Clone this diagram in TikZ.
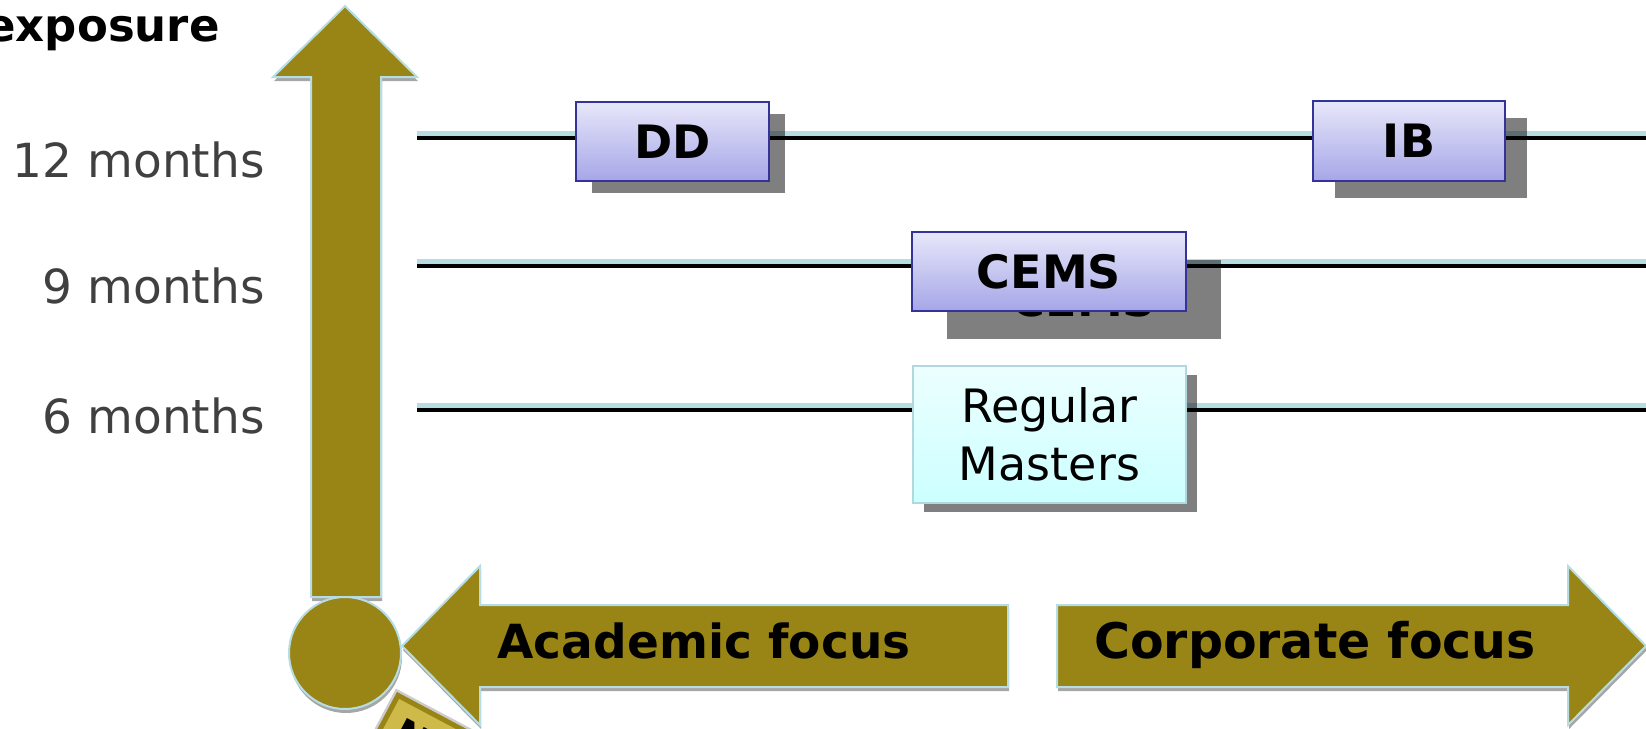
\documentclass[tikz,border=0pt]{standalone}
\usepackage{fontspec}
\setmainfont{DejaVu Sans}
\usepackage{tikz}
\usetikzlibrary{shadows}
\definecolor{arrowolive}{RGB}{153,133,21}
\definecolor{rimblue}{RGB}{183,221,228}
\definecolor{boxtop}{RGB}{231,231,250}
\definecolor{boxbottom}{RGB}{166,166,232}
\definecolor{boxrim}{RGB}{51,51,153}
\definecolor{regtop}{RGB}{236,255,255}
\definecolor{regbottom}{RGB}{204,255,255}
\definecolor{regrim}{RGB}{176,216,222}
\definecolor{labelgray}{RGB}{64,64,64}
\definecolor{fragfill}{RGB}{206,186,72}
\tikzset{every picture/.style={line width=0.75pt}}

\begin{document}
\begin{tikzpicture}[x=1pt,y=-1pt,
    boxshadow/.style 2 args={drop shadow={shadow xshift=#1, shadow yshift=#2, fill=black, opacity=0.5}},
    prog/.style={draw=boxrim, line width=2pt, top color=boxtop, bottom color=boxbottom, inner sep=0pt, font=\fontsize{46}{55}\selectfont\bfseries},
    progtext/.style={inner sep=0pt, font=\fontsize{46}{55}\selectfont\bfseries},
    regular/.style={draw=regrim, line width=2pt, top color=regtop, bottom color=regbottom, inner sep=0pt, align=center, font=\fontsize{46}{58}\selectfont},
    months/.style={anchor=base east, inner sep=0pt, text=labelgray, font=\fontsize{47}{56}\selectfont},
    focus/.style={anchor=base, inner sep=0pt, font=\fontsize{47}{56}\selectfont\bfseries},
    olivearrow/.style={fill=arrowolive, draw=rimblue, line width=2pt, drop shadow={shadow xshift=1pt, shadow yshift=-4pt, fill=black!35, opacity=1}},
    fragment/.style={fill=fragfill, draw=arrowolive, line width=5pt, preaction={draw=white!80!black, line width=10pt}, inner sep=16pt, text width=150pt, align=left, font=\fontsize{40}{48}\selectfont\bfseries}]
    \useasboundingbox (0,0) rectangle (1646,728);
    \clip (0,0) rectangle (1646,728);

    \node[fragment, rotate=-28, anchor=north west] (frag) at (397,692) {N};

    \node[anchor=base east, inner sep=0pt, font=\fontsize{45}{54}\selectfont\bfseries] (expo) at (220,41) {exposure};
    \node[months] (m12) at (265,177) {12 months};
    \node[months] (m9) at (265,303) {9 months};
    \node[months] (m6) at (265,433) {6 months};

    \foreach \y/\n in {138/twelve, 265.5/nine, 409.5/six} {
        \coordinate (\n w) at (417,\y);
        \coordinate (\n e) at (1646,\y);
        \draw[rimblue, line width=5pt] ([yshift=4.5pt]\n w) -- ([yshift=4.5pt]\n e);
        \draw[black, line width=4pt] (\n w) -- (\n e);
    }

    \node[prog, boxshadow={16pt}{-12pt}, minimum width=193pt, minimum height=79pt] (dd) at (672.5,141.5) {DD};
    \node[prog, boxshadow={22pt}{-17pt}, minimum width=192pt, minimum height=80pt] (ib) at (1409,141) {IB};
    \node[progtext] (cemsghost) at (1084,299.5) {CEMS};
    \node[prog, boxshadow={35pt}{-28pt}, minimum width=274pt, minimum height=79pt] (cems) at (1049,271.5) {CEMS};
    \node[regular, boxshadow={11pt}{-9pt}, minimum width=273pt, minimum height=137pt] (masters) at (1049.5,434.5) {Regular\\Masters};

    \path[olivearrow] (311,597) -- (311,77) -- (273,77) -- (345,6) -- (417,77) -- (381,77) -- (381,597) -- cycle;
    \node[circle, olivearrow, minimum size=112pt, inner sep=0pt] (origin) at (345,653) {};
    \path[olivearrow] (1008,605) -- (480,605) -- (480,566) -- (402,646) -- (480,725) -- (480,687) -- (1008,687) -- cycle;
    \path[olivearrow] (1057,605) -- (1568,605) -- (1568,566) -- (1646,646) -- (1568,725) -- (1568,687) -- (1057,687) -- cycle;

    \node[focus] (academic) at (704,658) {Academic focus};
    \node[focus, font=\fontsize{49}{58}\selectfont\bfseries] (corporate) at (1315,658) {Corporate focus};
\end{tikzpicture}
\end{document}
